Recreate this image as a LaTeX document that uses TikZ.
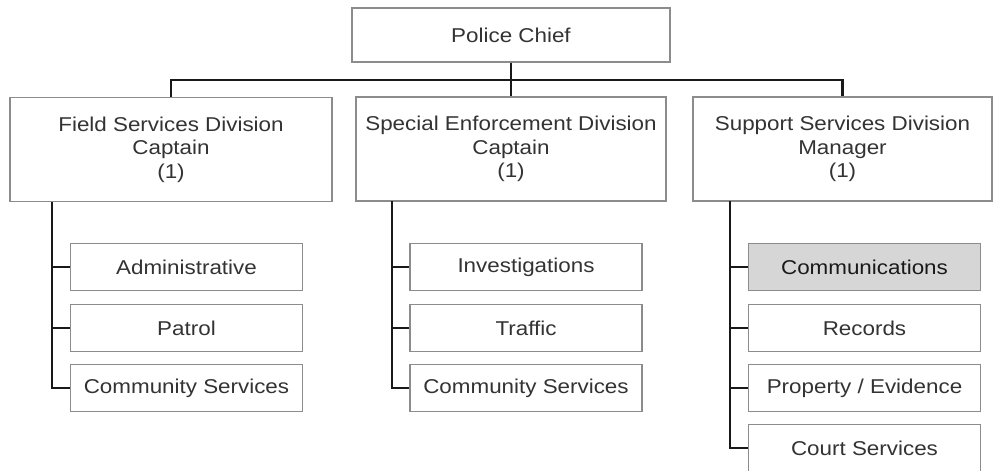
\documentclass[tikz,border=0pt]{standalone}
\usepackage{fontspec}
\setmainfont{Liberation Sans}[FakeStretch=1.12]
\begin{document}
\begin{tikzpicture}[x=0.75pt,y=-0.75pt,
  box/.style={draw=black!45,line width=0.8pt,fill=white,inner sep=0pt,
    text=black!80,font=\fontsize{15}{17.5}\selectfont,align=center},
  chbox/.style={box,minimum width=0.75pt*232,minimum height=0.75pt*47},
  divbox/.style={box,minimum height=0.75pt*104},
  conn/.style={draw=black!90,line width=2.1pt}]
\useasboundingbox (0,0) rectangle (1000,471);
% top
\node[box,minimum width=0.75pt*318,minimum height=0.75pt*54] (chief) at (511,35) {Police Chief};
\node[divbox,minimum width=0.75pt*322] (field) at (171,149.5) {Field Services Division\\Captain\\(1)};
\node[divbox,minimum width=0.75pt*310] (special) at (511,149) {Special Enforcement Division\\Captain\\(1)};
\node[divbox,minimum width=0.75pt*299] (support) at (842.5,149) {Support Services Division\\Manager\\(1)};
\coordinate (bar) at (511,80);
\draw[conn] (chief.south) -- (special.north);
\draw[conn] (field.north) |- (bar) -| (support.north);
% field children
\node[chbox] (f1) at (186.5,267) {Administrative};
\node[chbox] (f2) at (186.5,328) {Patrol};
\node[chbox] (f3) at (186.5,388) {Community Services};
\coordinate (tf) at (52,202);
\draw[conn] (tf) |- (f3.west);
\draw[conn] (f1.west) -- (f1.west -| tf);
\draw[conn] (f2.west) -- (f2.west -| tf);
% special children
\node[chbox] (s1) at (526,267) {Investigations};
\node[chbox] (s2) at (526,328) {Traffic};
\node[chbox] (s3) at (526,388) {Community Services};
\coordinate (ts) at (392,201);
\draw[conn] (ts) |- (s3.west);
\draw[conn] (s1.west) -- (s1.west -| ts);
\draw[conn] (s2.west) -- (s2.west -| ts);
% support children
\node[chbox,fill=black!16,text=black!90] (p1) at (864.5,267) {Communications};
\node[chbox] (p2) at (864.5,328) {Records};
\node[chbox] (p3) at (864.5,388) {Property / Evidence};
\node[chbox] (p4) at (864.5,448) {Court Services};
\coordinate (tp) at (730,201);
\draw[conn] (tp) |- (p4.west);
\draw[conn] (p1.west) -- (p1.west -| tp);
\draw[conn] (p2.west) -- (p2.west -| tp);
\draw[conn] (p3.west) -- (p3.west -| tp);
\end{tikzpicture}
\end{document}
